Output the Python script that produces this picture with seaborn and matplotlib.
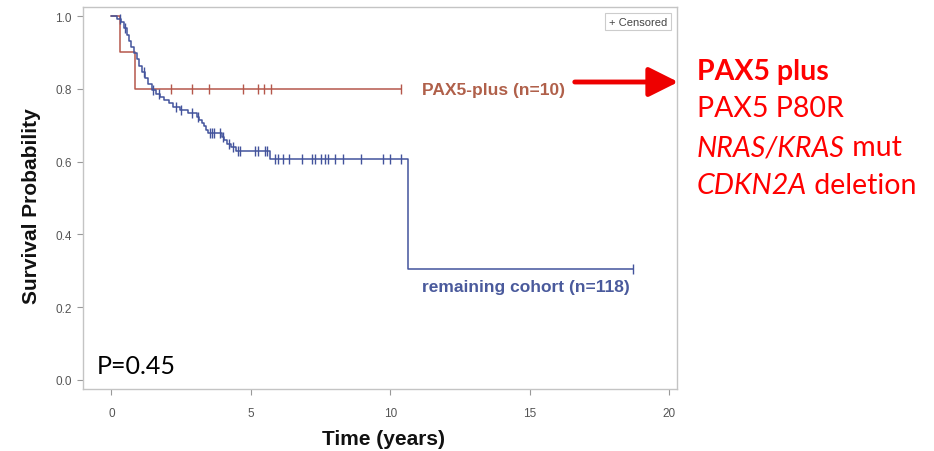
import numpy as np
import pandas as pd
import matplotlib
matplotlib.use("Agg")
import matplotlib.pyplot as plt
import seaborn as sns

# ---- data ----
pax_times = [0.0, 0.31, 0.86]
pax_surv = [1.0, 0.90, 0.80]
pax_censor = [2.14, 2.88, 3.50, 4.70, 5.27, 5.46, 5.72, 10.38]

rem_times = [0.00, 0.20, 0.35, 0.45, 0.55, 0.62, 0.70, 0.80, 0.90, 1.00, 1.08,
             1.20, 1.30, 1.45, 1.60, 1.75, 1.90, 2.05, 2.20, 2.45, 2.75, 3.05,
             3.15, 3.25, 3.32, 3.38, 3.45, 3.95, 4.05, 4.15, 4.28, 4.45, 5.70,
             10.65]
rem_surv = [1.000, 0.992, 0.983, 0.966, 0.949, 0.932, 0.915, 0.898, 0.881,
            0.864, 0.847, 0.830, 0.813, 0.796, 0.787, 0.778, 0.769, 0.760,
            0.751, 0.742, 0.733, 0.724, 0.715, 0.706, 0.697, 0.688, 0.679,
            0.669, 0.659, 0.649, 0.639, 0.629, 0.606, 0.304]
rem_censor = [0.30, 0.50, 1.15, 1.50, 1.70, 2.30, 2.50, 2.90, 3.10, 3.55, 3.62,
              3.68, 3.90, 4.00, 4.20, 4.35, 4.55, 4.62, 5.15, 5.27, 5.50, 5.58,
              5.87, 5.98, 6.16, 6.37, 6.82, 7.18, 7.30, 7.53, 7.65, 7.77, 8.01,
              8.31, 8.96, 9.75, 9.99, 10.40, 18.70]

group_labels = ["PAX5-plus (n=10)", "remaining cohort (n=118)"]
x_ticks = [0, 5, 10, 15, 20]
y_ticks = [0.0, 0.2, 0.4, 0.6, 0.8, 1.0]
p_text = "P=0.45"
side_lines = ["PAX5 plus", "PAX5 P80R", ("NRAS/KRAS", " mut"), ("CDKN2A", " deletion")]

RED = "#B5574B"
BLUE = "#43539C"

sns.set_style("white")
plt.rcParams["font.family"] = ["Liberation Sans", "DejaVu Sans"]

fig = plt.figure(figsize=(9.34, 4.52), dpi=100)
ax = fig.add_axes([83/934, 1-390/452, 594/934, 382/452])


def step_frame(times, surv, censor):
    t = list(times) + [max(censor)]
    s = list(surv) + [surv[-1]]
    line = pd.DataFrame({"t": t, "s": s})
    idx = np.searchsorted(np.array(times), np.array(censor), side="right") - 1
    cens = pd.DataFrame({"t": censor, "s": np.array(surv)[idx]})
    return line, cens


for times, surv, cens_t, col in [(pax_times, pax_surv, pax_censor, RED),
                                 (rem_times, rem_surv, rem_censor, BLUE)]:
    line, cens = step_frame(times, surv, cens_t)
    sns.lineplot(data=line, x="t", y="s", ax=ax, color=col, lw=1.1,
                 estimator=None, sort=False, drawstyle="steps-post")
    ax.plot(cens["t"], cens["s"], ls="none", marker="|", ms=6.5, mew=1.0, color=col)

ax.set_xlim(-1.02, 20.28)
ax.set_ylim(-0.025, 1.025)
ax.set_xticks(x_ticks)
ax.set_yticks(y_ticks)
ax.set_yticklabels([f"{v:.1f}" for v in y_ticks])
ax.tick_params(axis="both", which="both", direction="out", length=4, width=0.8,
               color="#999999", labelcolor="#555555", labelsize=8.5, bottom=True, left=True)
ax.tick_params(axis="x", pad=9)
ax.tick_params(axis="y", pad=4)
for sp in ax.spines.values():
    sp.set_color("#c4c4c4")
    sp.set_linewidth(1.0)
ax.set_xlabel("")
ax.set_ylabel("")

fig.text(384/934, 1-440/452, "Time (years)", fontsize=15, fontweight="bold",
         color="#111111", ha="center", va="center")
fig.text(32/934, 1-206/452, "Survival Probability", fontsize=15, fontweight="bold",
         color="#111111", ha="center", va="center", rotation=90)

# curve labels
ax.text(11.15, 0.797, group_labels[0], color="#B0604A", fontsize=12.5, fontweight="bold",
        va="center", ha="left")
ax.text(11.15, 0.258, group_labels[1], color="#4A5A9C", fontsize=12.5, fontweight="bold",
        va="center", ha="left")

# censored legend box
ax.text(0.984, 0.962, "+ Censored", transform=ax.transAxes, ha="right", va="center",
        fontsize=8, color="#444444",
        bbox=dict(boxstyle="square,pad=0.35", fc="white", ec="#cccccc", lw=0.8))

# P value
fig.text(97/934, 1-366/452, p_text, fontsize=18, family=["Lato", "DejaVu Sans"],
         color="black", va="center", ha="left")

# arrow
fig.patches.append(matplotlib.patches.FancyArrowPatch(
    (572/934, 1-83/452), (681/934, 1-83/452), transform=fig.transFigure,
    arrowstyle="-|>,head_length=12,head_width=6", lw=3.5, color="#EE0000",
    mutation_scale=1.5))

# side text
fig.canvas.draw()
r = fig.canvas.get_renderer()
ys = [72, 109, 148, 186]
x0 = 697/934
FS = 20.5
for i, item in enumerate(side_lines):
    y = 1 - ys[i]/452
    if isinstance(item, str):
        fig.text(x0, y, item, fontsize=FS, color="#FF0000", va="center", ha="left",
                 family=["Lato", "DejaVu Sans"], fontweight="bold" if i == 0 else "normal")
    else:
        t1 = fig.text(x0, y, item[0], fontsize=FS, color="#FF0000", va="center", ha="left",
                      family=["Lato", "DejaVu Sans"], style="italic")
        bb = t1.get_window_extent(renderer=r)
        fig.text(bb.x1/fig.bbox.width, y, item[1], fontsize=FS, color="#FF0000",
                 va="center", ha="left", family=["Lato", "DejaVu Sans"])

fig.savefig("out.png", dpi=100)
